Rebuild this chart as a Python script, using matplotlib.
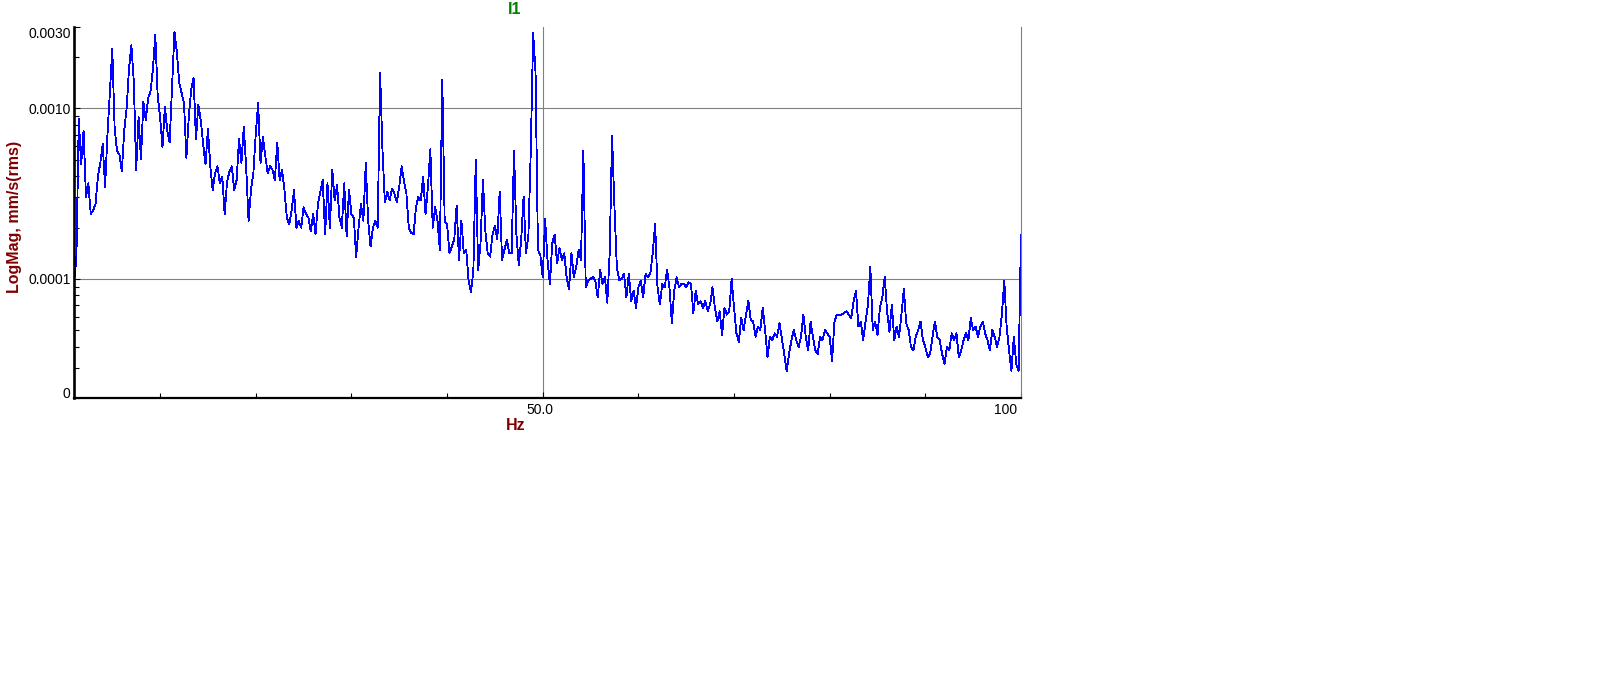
import numpy as np
import matplotlib
matplotlib.use('Agg')
import matplotlib.pyplot as plt
from matplotlib.ticker import LogLocator, NullFormatter
from matplotlib.transforms import ScaledTranslation

plt.rcParams['font.family'] = ['Liberation Sans', 'DejaVu Sans']

# spectrum lines, every 0.25 Hz from 1 Hz to 100 Hz
f_start = 1.0
df = 0.25
# log10 of the magnitude in mm/s(rms)
logmag = [
    # 1.0 - 17.5 Hz
    -4.02, -3.88, -3.06, -3.33, -3.13, -3.52, -3.44, -3.62, -3.60, -3.56,
    -3.40, -3.32, -3.21, -3.46, -3.15, -2.91, -2.65, -3.12, -3.25, -3.27,
    -3.37, -3.13, -3.00, -2.77, -2.63, -2.84, -3.36, -3.05, -3.30, -2.96,
    -3.07, -2.94, -2.90, -2.77, -2.57, -2.93, -3.05, -3.23, -2.99, -3.13,
    -3.20, -2.88, -2.55, -2.67, -2.85, -2.91, -2.97, -3.29, -3.05, -2.89,
    -2.82, -3.18, -2.98, -3.07, -3.21, -3.33, -3.12, -3.34, -3.48, -3.38,
    -3.34, -3.44, -3.40, -3.62, -3.43, -3.37, -3.34,
    # 17.75 - 34.0 Hz
    -3.48, -3.42, -3.18, -3.32, -3.11, -3.35, -3.66, -3.48, -3.38, -3.15,
    -2.97, -3.32, -3.17, -3.28, -3.38, -3.34, -3.36, -3.42, -3.20, -3.42,
    -3.36, -3.48, -3.64, -3.68, -3.60, -3.48, -3.70, -3.66, -3.70, -3.58,
    -3.62, -3.64, -3.72, -3.62, -3.74, -3.56, -3.49, -3.42, -3.74, -3.44,
    -3.70, -3.36, -3.54, -3.45, -3.64, -3.70, -3.44, -3.75, -3.48, -3.62,
    -3.64, -3.87, -3.70, -3.56, -3.66, -3.32, -3.66, -3.81, -3.70, -3.66,
    -3.70, -2.79, -3.25, -3.55, -3.49, -3.54,
    # 34.25 - 50.5 Hz
    -3.47, -3.50, -3.55, -3.46, -3.34, -3.43, -3.50, -3.70, -3.73, -3.74,
    -3.58, -3.52, -3.54, -3.40, -3.62, -3.46, -3.24, -3.70, -3.58, -3.66,
    -3.83, -2.83, -3.66, -3.68, -3.85, -3.81, -3.77, -3.57, -3.89, -3.66,
    -3.85, -3.83, -4.01, -4.08, -3.95, -3.30, -3.95, -3.79, -3.42, -3.72,
    -3.85, -3.87, -3.74, -3.69, -3.77, -3.49, -3.89, -3.83, -3.77, -3.85,
    -3.85, -3.25, -3.74, -3.92, -3.77, -3.52, -3.85, -3.75, -3.25, -2.56,
    -2.79, -3.83, -3.86, -3.99, -3.65, -3.89,
    # 50.75 - 67.0 Hz
    -4.03, -3.79, -3.74, -3.91, -3.82, -3.89, -3.85, -3.99, -4.06, -3.85,
    -3.99, -3.93, -3.83, -3.89, -3.25, -4.05, -4.01, -4.00, -3.99, -4.01,
    -4.11, -3.95, -4.03, -3.99, -4.14, -3.85, -3.16, -3.58, -3.93, -4.01,
    -4.00, -3.97, -4.11, -3.97, -4.13, -4.07, -4.17, -4.05, -4.01, -4.11,
    -3.97, -3.99, -3.97, -3.85, -3.68, -4.05, -4.15, -4.03, -4.05, -3.95,
    -4.05, -4.26, -4.07, -3.99, -4.05, -4.03, -4.03, -4.05, -4.02, -4.03,
    -4.20, -4.07, -4.15, -4.13, -4.17, -4.13,
    # 67.25 - 83.5 Hz
    -4.19, -4.15, -4.05, -4.17, -4.25, -4.19, -4.33, -4.17, -4.21, -4.19,
    -4.00, -4.17, -4.32, -4.37, -4.23, -4.30, -4.21, -4.13, -4.24, -4.25,
    -4.34, -4.28, -4.30, -4.17, -4.30, -4.46, -4.34, -4.36, -4.32, -4.34,
    -4.26, -4.35, -4.44, -4.54, -4.44, -4.36, -4.30, -4.36, -4.40, -4.34,
    -4.21, -4.34, -4.42, -4.25, -4.34, -4.42, -4.44, -4.34, -4.36, -4.30,
    -4.32, -4.34, -4.48, -4.25, -4.21, -4.21, -4.21, -4.20, -4.19, -4.21,
    -4.23, -4.13, -4.07, -4.28, -4.25, -4.36,
    # 83.75 - 100.0 Hz
    -4.25, -4.15, -3.93, -4.30, -4.25, -4.33, -4.17, -4.11, -3.99, -4.19,
    -4.31, -4.15, -4.36, -4.28, -4.34, -4.21, -4.06, -4.26, -4.30, -4.40,
    -4.42, -4.34, -4.30, -4.25, -4.36, -4.40, -4.46, -4.44, -4.34, -4.25,
    -4.34, -4.36, -4.44, -4.50, -4.40, -4.42, -4.32, -4.36, -4.32, -4.46,
    -4.42, -4.36, -4.32, -4.36, -4.23, -4.30, -4.28, -4.34, -4.28, -4.25,
    -4.32, -4.36, -4.42, -4.30, -4.34, -4.40, -4.34, -4.21, -4.01, -4.28,
    -4.42, -4.54, -4.34, -4.50, -4.54, -3.74,
]

x_lim = (1.0, 100.0)
y_lim = (2e-5, 3e-3)
x_ticks = [50, 100]
x_ticklabels = ['50.0', '100']
x_minor = [10, 20, 30, 40, 60, 70, 80, 90]
y_ticks = [2e-5, 1e-4, 1e-3, 3e-3]
y_ticklabels = ['0', '0.0001', '0.0010', '0.0030']
grid_y = [1e-4, 1e-3]
grid_x = [50]
title = 'I1'
xlabel = 'Hz'
ylabel = 'LogMag, mm/s(rms)'

freq = f_start + df * np.arange(len(logmag))
mag = 10.0 ** np.array(logmag)

W, H = 1604, 682
fig = plt.figure(figsize=(W / 100, H / 100), dpi=100)
ax = fig.add_axes([74 / W, 1 - 398 / H, 947 / W, 371 / H])

for y in grid_y:
    ax.axhline(y, color='#808080', lw=0.8, zorder=1)
for x in grid_x:
    ax.axvline(x, color='#808080', lw=0.8, zorder=1)

ax.plot(freq, mag, color='#0000ff', lw=0.6, zorder=2, antialiased=False)

ax.set_yscale('log')
ax.set_xlim(*x_lim)
ax.set_ylim(*y_lim)

ax.set_yticks(y_ticks)
ax.set_yticklabels(y_ticklabels)
ax.yaxis.set_minor_locator(LogLocator(base=10, subs=np.arange(2, 10)))
ax.yaxis.set_minor_formatter(NullFormatter())
ax.set_xticks(x_ticks)
ax.set_xticklabels(x_ticklabels)
ax.set_xticks(x_minor, minor=True)

ax.tick_params(which='both', direction='in', color='black', width=0.8,
               labelsize=10, labelcolor='black')
ax.tick_params(which='major', length=4.5)
ax.tick_params(which='minor', length=3.6)
ax.tick_params(axis='y', which='major', pad=2.4)
ax.tick_params(axis='x', which='major', pad=3.5)

ylabs = ax.get_yticklabels()
ylabs[0].set_va('baseline')
ylabs[-1].set_va('top')
xlabs = ax.get_xticklabels()
xlabs[-1].set_ha('right')
# small nudges to the left, as in the original
xlabs[0].set_transform(xlabs[0].get_transform()
                       + ScaledTranslation(-3 / 100, 0, fig.dpi_scale_trans))
xlabs[-1].set_transform(xlabs[-1].get_transform()
                        + ScaledTranslation(-4 / 100, 0, fig.dpi_scale_trans))

ax.spines['top'].set_visible(False)
ax.spines['right'].set_color('#808080')
ax.spines['right'].set_linewidth(0.8)
ax.spines['left'].set_linewidth(1.9)
ax.spines['bottom'].set_linewidth(1.6)

ax.set_xlabel(xlabel, color='#800000', fontweight='bold', fontsize=11.5)
ax.xaxis.set_label_coords((515.6 - 74) / 947, (398 - 418) / 371)
ax.set_ylabel(ylabel, color='#800000', fontweight='bold', fontsize=11.5)
ax.yaxis.set_label_coords((22 - 74) / 947, (398 - 217.4) / 371)

fig.text(515 / W, 1 - 9 / H, title, color='#008000', fontweight='bold',
         fontsize=11.5, ha='center', va='center')

fig.savefig('out.png', dpi=100)
